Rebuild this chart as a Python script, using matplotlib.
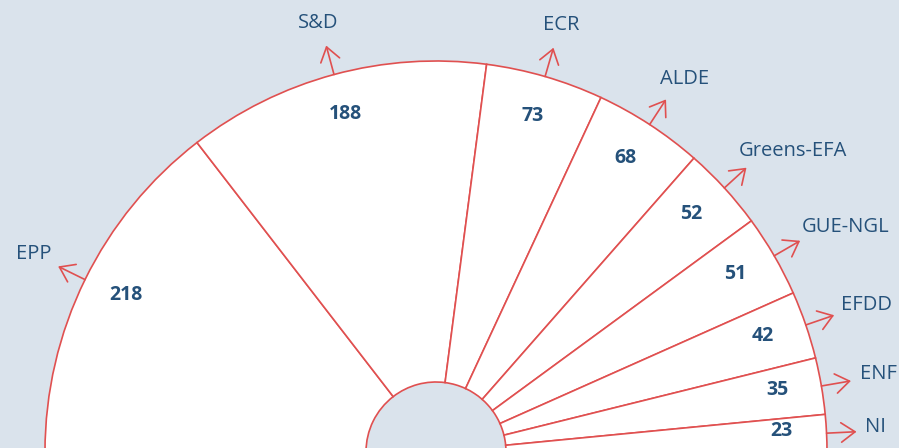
import numpy as np
import matplotlib.pyplot as plt

# European Parliament seats per political group
groups = ['EPP', 'S&D', 'ECR', 'ALDE', 'Greens-EFA', 'GUE-NGL', 'EFDD', 'ENF', 'NI']
seats = [218, 188, 73, 68, 52, 51, 42, 35, 23]

bg = '#dae3ec'
red = '#e05050'
navy = '#25517a'

plt.rcParams['font.family'] = ['Open Sans', 'DejaVu Sans']

fig = plt.figure(figsize=(8.99, 4.48), dpi=100, facecolor=bg)
ax = fig.add_axes([0, 0, 1, 1])
ax.set_facecolor(bg)

# radii in pixels (axes units == pixels)
R_OUT, R_IN = 391, 70
total = sum(seats)
lift = 4  # small upward nudge so caps look centred

# half donut: add an invisible wedge for the lower half
wedges, _ = ax.pie(seats + [total], radius=R_OUT, startangle=180, counterclock=False,
                   wedgeprops=dict(width=R_OUT - R_IN, facecolor='white',
                                   edgecolor=red, linewidth=1.2))
wedges[-1].set_visible(False)

fig.canvas.draw()
renderer = fig.canvas.get_renderer()

for w, name, n in zip(wedges[:-1], groups, seats):
    ang = np.deg2rad((w.theta1 + w.theta2) / 2)
    c, s = np.cos(ang), np.sin(ang)
    ax.text(346 * c, 346 * s + lift, str(n), ha='center', va='center',
            fontsize=14, fontweight='bold', color=navy)
    ax.annotate('', xy=(421 * c, 421 * s), xytext=(R_OUT * c, R_OUT * s),
                arrowprops=dict(arrowstyle='->, head_length=0.5, head_width=0.35',
                                color=red, lw=1.2, mutation_scale=20,
                                shrinkA=0, shrinkB=0))
    t = ax.text(0, 0, name, ha='center', va='center', fontsize=14.5, color=navy)
    bb = t.get_window_extent(renderer)
    t.set_position((430 * c + bb.width / 2 * c,
                    430 * s + bb.height / 2 * s + lift))

ax.set_aspect('equal')
ax.set_xlim(-436, 463)
ax.set_ylim(4, 452)
ax.axis('off')

fig.savefig('out.png', dpi=100, facecolor=bg)
